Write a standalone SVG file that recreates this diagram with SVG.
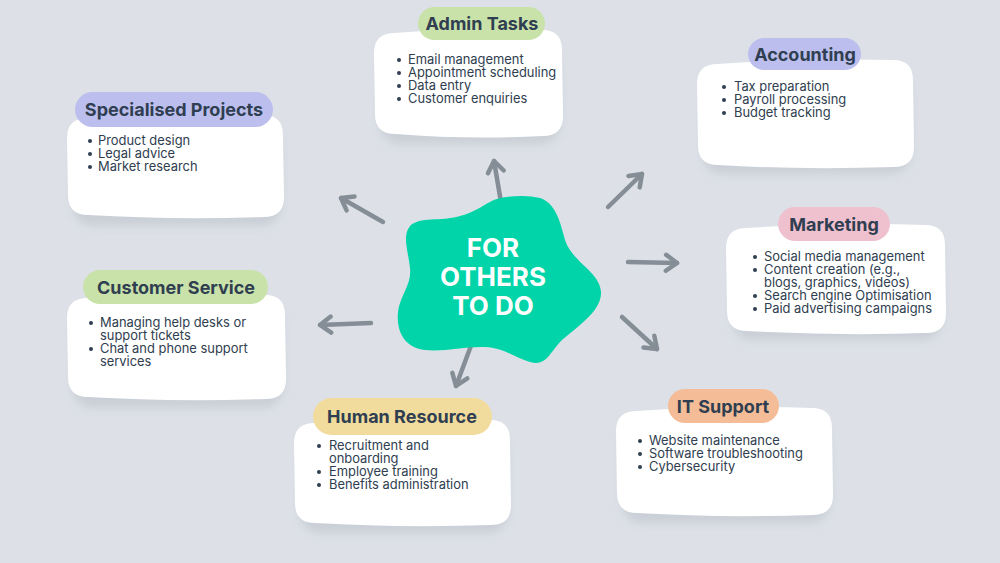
<svg xmlns="http://www.w3.org/2000/svg" width="1000" height="563" viewBox="0 0 1000 563">
<defs>
<style>
.bg{fill:#dde1e7}
.box{fill:#ffffff}
.shadow{fill:#b9c0c9;opacity:0.55;filter:url(#blur)}
.title{font-family:Inter,"Open Sans",sans-serif;font-weight:700;font-size:18px;fill:#2f3e50;text-anchor:middle}
.item{font-family:Inter,"Open Sans",sans-serif;font-size:12.9px;fill:#2f3e50}
.dot{fill:#2f3e50}
.arrow{fill:none;stroke:#858e96;stroke-width:4.5;stroke-linecap:round;marker-end:url(#head)}
.center{font-family:Inter,"Open Sans",sans-serif;font-weight:700;font-size:26px;fill:#ffffff;text-anchor:middle}
.green{fill:#c9e2a9}
.lav{fill:#bcbfee}
.pink{fill:#efc1cf}
.yellow{fill:#f2dc9d}
.orange{fill:#f4bd97}
</style>
<filter id="blur" x="-20%" y="-20%" width="140%" height="160%"><feGaussianBlur stdDeviation="5"/></filter>
<marker id="head" markerUnits="userSpaceOnUse" markerWidth="30" markerHeight="30" viewBox="-15 -15 30 30" refX="0" refY="0" orient="auto">
<path d="M -11 -8 L 0 0 L -11 8" fill="none" stroke="#858e96" stroke-width="4.5" stroke-linecap="round" stroke-linejoin="round"/>
</marker>
</defs>
<rect class="bg" x="0" y="0" width="1000" height="563"/>

<g id="connectors">
<line class="arrow" x1="502" y1="208" x2="494" y2="161"/>
<line class="arrow" x1="383" y1="222" x2="341" y2="198"/>
<line class="arrow" x1="608" y1="207" x2="642" y2="174"/>
<line class="arrow" x1="628" y1="262" x2="677" y2="263"/>
<line class="arrow" x1="622" y1="317" x2="657" y2="349"/>
<line class="arrow" x1="472" y1="343" x2="456" y2="386"/>
<line class="arrow" x1="371" y1="323" x2="320" y2="325"/>
</g>

<g id="center">
<path d="M 490 202 C 500 196 525 194 540 198 C 555 203 560 220 565 240 C 572 262 600 272 601 292 C 602 312 575 328 560 342 C 548 356 545 366 530 362 C 515 358 505 348 485 347 C 465 346 445 352 425 350 C 405 348 396 332 398 312 C 400 295 412 285 410 268 C 408 250 402 236 410 226 C 420 216 440 222 460 216 C 475 212 482 206 490 202 Z" fill="#00d4a8"/>
<text class="center" x="493" y="257">FOR</text>
<text class="center" x="493" y="286">OTHERS</text>
<text class="center" x="493" y="315">TO DO</text>
</g>

<g id="admin-tasks">
<rect class="shadow" x="380" y="44" width="180" height="100" rx="20"/>
<path class="box" d="M 395 33 Q 470 27 542 30 Q 562 30 562 50 L 563 116 Q 563 136 543 136 Q 470 140 395 134 Q 375 134 375 114 L 374 53 Q 374 33 395 33 Z"/>
<rect class="green" x="418" y="7" width="127" height="33" rx="16.5"/>
<text class="title" x="482" y="30">Admin Tasks</text>
<circle class="dot" cx="399" cy="60" r="2"/><text class="item" x="408" y="64">Email management</text>
<circle class="dot" cx="399" cy="73" r="2"/><text class="item" x="408" y="77">Appointment scheduling</text>
<circle class="dot" cx="399" cy="86" r="2"/><text class="item" x="408" y="90">Data entry</text>
<circle class="dot" cx="399" cy="99" r="2"/><text class="item" x="408" y="103">Customer enquiries</text>
</g>

<g id="accounting">
<rect class="shadow" x="703" y="74" width="208" height="100" rx="20"/>
<path class="box" d="M 718 64 Q 800 58 893 60 Q 913 60 913 80 L 914 147 Q 914 167 894 167 Q 800 170 718 165 Q 698 165 698 145 L 697 84 Q 697 64 718 64 Z"/>
<rect class="lav" x="748" y="38" width="113" height="32" rx="16"/>
<text class="title" x="805" y="60.5">Accounting</text>
<circle class="dot" cx="724" cy="87" r="2"/><text class="item" x="734" y="91">Tax preparation</text>
<circle class="dot" cx="724" cy="100" r="2"/><text class="item" x="734" y="104">Payroll processing</text>
<circle class="dot" cx="724" cy="113" r="2"/><text class="item" x="734" y="117">Budget tracking</text>
</g>

<g id="specialised-projects">
<rect class="shadow" x="73" y="128" width="208" height="98" rx="20"/>
<path class="box" d="M 88 118 Q 170 113 263 115 Q 283 115 283 135 L 284 197 Q 284 217 264 217 Q 170 220 88 215 Q 68 215 68 195 L 67 138 Q 67 118 88 118 Z"/>
<rect class="lav" x="75" y="92" width="198" height="35" rx="17.5"/>
<text class="title" x="174" y="115.5">Specialised Projects</text>
<circle class="dot" cx="90" cy="141" r="2"/><text class="item" x="98" y="145">Product design</text>
<circle class="dot" cx="90" cy="154" r="2"/><text class="item" x="98" y="158">Legal advice</text>
<circle class="dot" cx="90" cy="167" r="2"/><text class="item" x="98" y="171">Market research</text>
</g>

<g id="marketing">
<rect class="shadow" x="732" y="238" width="210" height="102" rx="20"/>
<path class="box" d="M 747 228 Q 840 222 925 225 Q 945 225 945 245 L 946 313 Q 946 333 926 333 Q 840 336 747 331 Q 727 331 727 311 L 726 248 Q 726 228 747 228 Z"/>
<rect class="pink" x="778" y="207" width="112" height="34" rx="17"/>
<text class="title" x="834" y="230.5">Marketing</text>
<circle class="dot" cx="755" cy="257" r="2"/><text class="item" x="764" y="261">Social media management</text>
<circle class="dot" cx="755" cy="270" r="2"/><text class="item" x="764" y="274">Content creation (e.g.,</text>
<text class="item" x="764" y="287">blogs, graphics, videos)</text>
<circle class="dot" cx="755" cy="296" r="2"/><text class="item" x="764" y="300">Search engine Optimisation</text>
<circle class="dot" cx="755" cy="309" r="2"/><text class="item" x="764" y="313">Paid advertising campaigns</text>
</g>

<g id="customer-service">
<rect class="shadow" x="73" y="308" width="210" height="100" rx="20"/>
<path class="box" d="M 88 298 Q 170 292 265 295 Q 285 295 285 315 L 286 379 Q 286 399 266 399 Q 170 402 88 397 Q 68 397 68 377 L 67 318 Q 67 298 88 298 Z"/>
<rect class="green" x="83" y="270" width="185" height="34" rx="17"/>
<text class="title" x="176" y="293.5">Customer Service</text>
<circle class="dot" cx="91" cy="323" r="2"/><text class="item" x="100" y="327">Managing help desks or</text>
<text class="item" x="100" y="340">support tickets</text>
<circle class="dot" cx="91" cy="349" r="2"/><text class="item" x="100" y="353">Chat and phone support</text>
<text class="item" x="100" y="366">services</text>
</g>

<g id="human-resource">
<rect class="shadow" x="300" y="433" width="208" height="100" rx="20"/>
<path class="box" d="M 315 423 Q 400 417 490 420 Q 510 420 510 440 L 511 505 Q 511 525 491 525 Q 400 528 315 523 Q 295 523 295 503 L 294 443 Q 294 423 315 423 Z"/>
<rect class="yellow" x="313" y="398" width="179" height="37" rx="18.5"/>
<text class="title" x="402" y="422.5">Human Resource</text>
<circle class="dot" cx="319" cy="446" r="2"/><text class="item" x="329" y="450">Recruitment and</text>
<text class="item" x="329" y="463">onboarding</text>
<circle class="dot" cx="319" cy="472" r="2"/><text class="item" x="329" y="476">Employee training</text>
<circle class="dot" cx="319" cy="485" r="2"/><text class="item" x="329" y="489">Benefits administration</text>
</g>

<g id="it-support">
<rect class="shadow" x="622" y="421" width="208" height="102" rx="20"/>
<path class="box" d="M 637 411 Q 720 405 812 408 Q 832 408 832 428 L 833 495 Q 833 515 813 515 Q 720 518 637 513 Q 617 513 617 493 L 616 431 Q 616 411 637 411 Z"/>
<rect class="orange" x="668" y="389" width="111" height="34" rx="17"/>
<text class="title" x="723" y="412.5">IT Support</text>
<circle class="dot" cx="640" cy="441" r="2"/><text class="item" x="649" y="445">Website maintenance</text>
<circle class="dot" cx="640" cy="454" r="2"/><text class="item" x="649" y="458">Software troubleshooting</text>
<circle class="dot" cx="640" cy="467" r="2"/><text class="item" x="649" y="471">Cybersecurity</text>
</g>
</svg>
